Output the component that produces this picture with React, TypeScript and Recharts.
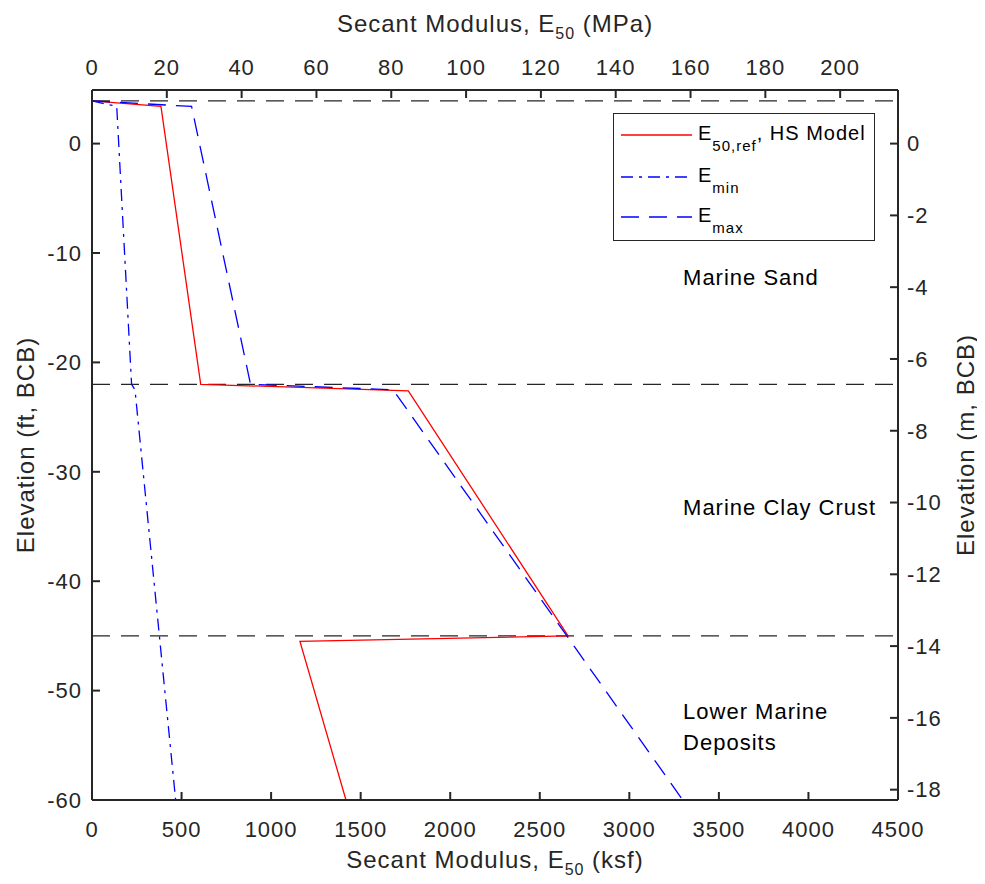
import React from 'react';
import { ComposedChart, Line, XAxis, YAxis, ReferenceLine, ReferenceDot, Legend } from 'recharts';

const KSF_TO_MPA = 0.0478803;
const FT_TO_M = 0.3048;

// E50,ref (HS Model)
const eRefElev = [3.9, 3.4, -22, -22.6, -45, -45.5, -60];
const eRefKsf = [0, 385, 607, 1766, 2658, 1161, 1418];
// Emin
const eMinElev = [3.9, 3.4, -22, -22.5, -60];
const eMinKsf = [0, 138, 221, 240, 467];
// Emax
const eMaxElev = [3.9, 3.4, -22, -22.5, -60];
const eMaxKsf = [0, 556, 885, 1681, 3298];

const boundaryElev = [3.9, -22, -45];
const layerNames = [['Marine Sand'], ['Marine Clay Crust'], ['Lower Marine', 'Deposits']];
const layerLabelKsf = [3300, 3300, 3300];
const layerLabelElev = [-12.2, -33.2, -53.3];

const ksfTicks = [0, 500, 1000, 1500, 2000, 2500, 3000, 3500, 4000, 4500];
const mpaTicks = [0, 20, 40, 60, 80, 100, 120, 140, 160, 180, 200];
const ftTicks = [-60, -50, -40, -30, -20, -10, 0];
const mTicks = [-18, -16, -14, -12, -10, -8, -6, -4, -2, 0];
const ksfMax = 4500;
const ftMin = -60;
const ftMax = 4.9;

const toPts = (xs: number[], ys: number[]) => xs.map((x, i) => ({ x, y: ys[i] }));
const eRefData = toPts(eRefKsf, eRefElev);
const eMinData = toPts(eMinKsf, eMinElev);
const eMaxData = toPts(eMaxKsf, eMaxElev);
const hiddenMetric = eRefKsf.map((x, i) => ({ x: x * KSF_TO_MPA, y: eRefElev[i] * FT_TO_M }));

const FONT = 'Arial, "Liberation Sans", Helvetica, sans-serif';
const INK = '#262626';
const RED = '#ff0000';
const BLUE = '#0000ff';
const DASHDOT = '12 6 3 6';
const DASH = '18 10';

const tickStyle = { fill: INK, fontSize: 22, fontFamily: FONT };

const LegendBox = () => (
  <svg width={262} height={128} style={{ display: 'block', fontFamily: FONT, letterSpacing: '1px' }}>
    <rect x={0.5} y={0.5} width={261} height={127} fill="#fff" stroke={INK} strokeWidth={1} />
    <line x1={8} x2={79} y1={22} y2={22} stroke={RED} strokeWidth={1.3} />
    <line x1={8} x2={79} y1={64} y2={64} stroke={BLUE} strokeWidth={1.3} strokeDasharray={DASHDOT} />
    <line x1={8} x2={79} y1={104} y2={104} stroke={BLUE} strokeWidth={1.3} strokeDasharray={DASH} />
    <text x={85} y={27} fontSize={20} fill="#000">
      <tspan>E</tspan>
      <tspan dy={11} fontSize={15}>50,ref</tspan>
      <tspan dy={-11}>, HS Model</tspan>
    </text>
    <text x={85} y={69} fontSize={20} fill="#000">
      <tspan>E</tspan>
      <tspan dy={11} fontSize={15}>min</tspan>
    </text>
    <text x={85} y={109} fontSize={20} fill="#000">
      <tspan>E</tspan>
      <tspan dy={11} fontSize={15}>max</tspan>
    </text>
  </svg>
);

const bottomTitle = (p: any) => {
  const vb = p.viewBox;
  return (
    <text x={vb.x + vb.width / 2} y={vb.y + 68} textAnchor="middle" fontSize={24} fill={INK} fontFamily={FONT}>
      <tspan>Secant Modulus, E</tspan>
      <tspan dy={7} fontSize={16}>50</tspan>
      <tspan dy={-7}> (ksf)</tspan>
    </text>
  );
};

const topTitle = (p: any) => {
  const vb = p.viewBox;
  return (
    <text x={vb.x + vb.width / 2} y={vb.y} textAnchor="middle" fontSize={24} fill={INK} fontFamily={FONT}>
      <tspan>Secant Modulus, E</tspan>
      <tspan dy={7} fontSize={16}>50</tspan>
      <tspan dy={-7}> (MPa)</tspan>
    </text>
  );
};

const leftTitle = (p: any) => {
  const vb = p.viewBox;
  const cx = vb.x + 3;
  const cy = vb.y + vb.height / 2;
  return (
    <text x={cx} y={cy} dy="0.36em" textAnchor="middle" fontSize={24} fill={INK} fontFamily={FONT}
      transform={`rotate(-90, ${cx}, ${cy})`}>
      Elevation (ft, BCB)
    </text>
  );
};

const rightTitle = (p: any) => {
  const vb = p.viewBox;
  const cx = vb.x + 67;
  const cy = vb.y + vb.height / 2;
  return (
    <text x={cx} y={cy} dy="0.36em" textAnchor="middle" fontSize={24} fill={INK} fontFamily={FONT}
      transform={`rotate(-90, ${cx}, ${cy})`}>
      Elevation (m, BCB)
    </text>
  );
};

const makeAnnot = (lines: string[]) => (p: any) => {
  const n = lines.length;
  const spacing = 31;
  return (
    <text x={p.cx} y={p.cy} fontSize={22} fill="#000" fontFamily={FONT}>
      {lines.map((l, i) => (
        <tspan key={i} x={p.cx} y={p.cy + (i - (n - 1) / 2) * spacing} dy="0.36em">{l}</tspan>
      ))}
    </text>
  );
};

export default function App() {
  return (
    <div style={{ width: 970, height: 870, fontFamily: FONT, letterSpacing: '1px', position: 'relative' }}>
      <ComposedChart width={970} height={870} margin={{ top: 24, right: 10, bottom: 18, left: 14 }}>
        <XAxis xAxisId="ksf" type="number" dataKey="x" orientation="bottom" domain={[0, ksfMax]} ticks={ksfTicks}
          allowDataOverflow height={60} tickSize={-8} tickMargin={29} tick={tickStyle}
          axisLine={{ stroke: INK, strokeWidth: 2 }} tickLine={{ stroke: INK, strokeWidth: 2 }} label={bottomTitle} />
        <XAxis xAxisId="mpa" type="number" dataKey="x" orientation="top" domain={[0, ksfMax * KSF_TO_MPA]} ticks={mpaTicks}
          allowDataOverflow height={58} tickSize={-8} tickMargin={23} tick={tickStyle}
          axisLine={{ stroke: INK, strokeWidth: 2 }} tickLine={{ stroke: INK, strokeWidth: 2 }} label={topTitle} />
        <YAxis yAxisId="ft" type="number" orientation="left" domain={[ftMin, ftMax]} ticks={ftTicks}
          allowDataOverflow width={70} tickSize={-8} tickMargin={18} tick={tickStyle}
          axisLine={{ stroke: INK, strokeWidth: 2 }} tickLine={{ stroke: INK, strokeWidth: 2 }} label={leftTitle} />
        <YAxis yAxisId="m" type="number" orientation="right" domain={[ftMin * FT_TO_M, ftMax * FT_TO_M]} ticks={mTicks}
          allowDataOverflow width={70} tickSize={-8} tickMargin={17} tick={tickStyle}
          axisLine={{ stroke: INK, strokeWidth: 2 }} tickLine={{ stroke: INK, strokeWidth: 2 }} label={rightTitle} />

        {boundaryElev.map((e, i) => (
          <ReferenceLine key={'b' + i} xAxisId="ksf" yAxisId="ft" y={e} stroke={INK} strokeWidth={1.3} strokeDasharray="18 11" />
        ))}

        <Line xAxisId="mpa" yAxisId="m" data={hiddenMetric} dataKey="y" stroke="none" dot={false} activeDot={false}
          legendType="none" isAnimationActive={false} />
        <Line xAxisId="ksf" yAxisId="ft" data={eRefData} dataKey="y" name="E50,ref, HS Model" stroke={RED} strokeWidth={1.3}
          dot={false} activeDot={false} isAnimationActive={false} />
        <Line xAxisId="ksf" yAxisId="ft" data={eMinData} dataKey="y" name="Emin" stroke={BLUE} strokeWidth={1.3}
          strokeDasharray={DASHDOT} dot={false} activeDot={false} isAnimationActive={false} />
        <Line xAxisId="ksf" yAxisId="ft" data={eMaxData} dataKey="y" name="Emax" stroke={BLUE} strokeWidth={1.3}
          strokeDasharray={DASH} dot={false} activeDot={false} isAnimationActive={false} />

        {layerNames.map((lines, i) => (
          <ReferenceDot key={'l' + i} xAxisId="ksf" yAxisId="ft" x={layerLabelKsf[i]} y={layerLabelElev[i]} r={0}
            shape={makeAnnot(lines)} />
        ))}

        <Legend layout="horizontal" verticalAlign="middle" align="center"
          wrapperStyle={{ position: 'absolute', left: 605, top: 105, width: 262, height: 128, margin: 0, padding: 0 }}
          content={() => <LegendBox />} />
      </ComposedChart>
    </div>
  );
}
